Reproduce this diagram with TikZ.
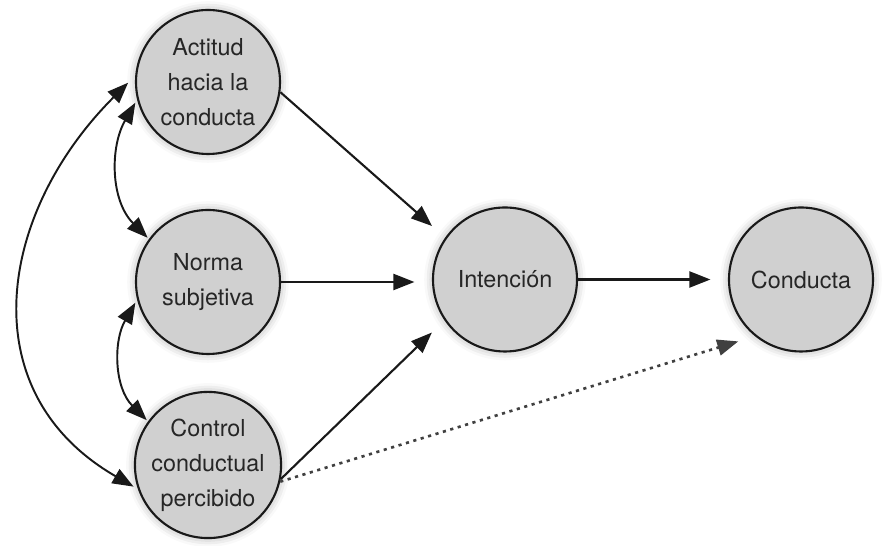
\documentclass[tikz,border=0pt]{standalone}
\usepackage{fontspec}
\setmainfont{TeX Gyre Heros}
\usetikzlibrary{arrows.meta,shadows.blur}

\definecolor{relleno}{HTML}{D0D0D0}
\definecolor{texto}{HTML}{262626}

\tikzset{
  circvar/.style={circle, draw=black!90, line width=1.2pt, fill=relleno,
    minimum size=2.88cm, inner sep=0pt, align=center, text=texto,
    font=\fontsize{13.3}{20}\selectfont,
    blur shadow={shadow xshift=0pt, shadow yshift=0pt, shadow blur radius=5pt, shadow opacity=35}},
  flecha/.style={line width=1.2pt, draw=black!90, -{Triangle[length=4.2mm,width=3.2mm]}, shorten >=0.35cm},
  doble/.style={line width=1.1pt, draw=black!90, {Triangle[length=4.2mm,width=3.2mm]}-{Triangle[length=4.2mm,width=3.2mm]}},
  punteada/.style={flecha, line width=1.5pt, dash pattern=on 1.8pt off 2.6pt, draw=black!75}
}

\begin{document}
\begin{tikzpicture}
  \useasboundingbox (0,0) rectangle (17.74,10.92);
  % variables
  \node[circvar] (actitud) at (4.16,9.28) {Actitud\\hacia la\\conducta};
  \node[circvar] (norma) at (4.16,5.28) {Norma\\subjetiva};
  \node[circvar] (control) at (4.16,1.62) {Control\\conductual\\percibido};
  \node[circvar] (intencion) at (10.10,5.33) {Intención};
  \node[circvar] (conducta) at (16.02,5.33) {Conducta};

  % hacia la intencion
  \draw[flecha] (actitud.-8) -- (intencion.145);
  \draw[flecha] (norma.east) -- (intencion.west |- norma.east);
  \draw[flecha] (control.-11) -- (intencion.214);
  \draw[flecha] (intencion.east) -- (conducta.west);
  \draw[punteada] (control.-13) -- (conducta.231);

  % correlaciones
  \draw[doble, shorten <=2pt, shorten >=1pt] (actitud.194) to[out=240,in=135] (norma.144);
  \draw[doble, shorten <=2pt, shorten >=1pt] (norma.194) to[out=240,in=135] (control.144);
  \draw[doble, shorten <=0.2cm, shorten >=0.1cm] (actitud.175) to[out=225,in=150,looseness=1.2] (control.199);
\end{tikzpicture}
\end{document}
